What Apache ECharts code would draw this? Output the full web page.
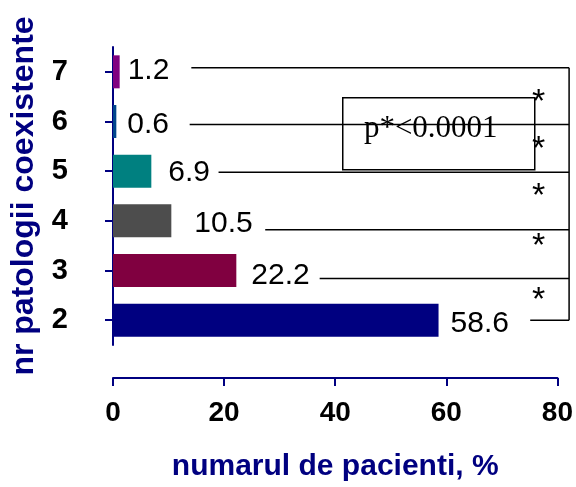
<!DOCTYPE html>
<html>
<head>
<meta charset="utf-8">
<script src="https://cdn.jsdelivr.net/npm/echarts@6/dist/echarts.min.js"></script>
<style>
  html, body { margin: 0; background: #fff; }
  #chart { width: 576px; height: 487px; }
</style>
</head>
<body>
<div id="chart"></div>
<script>
const categories = ["2", "3", "4", "5", "6", "7"];
const values = [58.6, 22.2, 10.5, 6.9, 0.6, 1.2];
const barColors = ["#000080", "#800040", "#4d4d4d", "#008080", "#00468c", "#800080"];
const xTicks = [0, 20, 40, 60, 80];
// comparison lines: where each one starts / ends, in % on the x axis
const bracketFrom = [75.1, 37.2, 27.4, 19.0, 13.8, 14.1];
const bracketTo = 82.1;
const starX = 76.6;
const pLabel = "p*<0.0001";

// small nudges (px)
const labelGap = [12, 15, 23, 17, 11, 8];
const labelDy = [4, 5, 3, 2, 3, -1];
const lineDy = [0, 8, 9, 1, 3, -4];
const starDy = [0, 1, -8, -4, 1, 6];

const NAVY = "#000080";
const FONT = "'Liberation Sans', Arial, sans-serif";

const chart = echarts.init(document.getElementById("chart"));

const barData = values.map((v, i) => ({
  value: v,
  itemStyle: { color: barColors[i] },
  label: { distance: labelGap[i], offset: [0, labelDy[i]] }
}));

const bracketData = bracketFrom.map((v, i) => [v, bracketTo, i]);

function lineY(api, i) {
  return api.coord([0, i])[1] + lineDy[i];
}

const option = {
  animation: false,
  grid: { left: 112, right: 17, top: 47, bottom: 140 },
  xAxis: {
    type: "value",
    min: 0,
    max: 80,
    interval: 20,
    offset: 33,
    name: "numarul de pacienti, %",
    nameLocation: "middle",
    nameGap: 74,
    nameTextStyle: { color: NAVY, fontSize: 30, fontWeight: "bold", fontFamily: FONT },
    axisLine: { show: true, lineStyle: { color: NAVY, width: 2 } },
    axisTick: { show: true, length: 8, lineStyle: { color: NAVY, width: 2 } },
    axisLabel: {
      color: "#000", fontSize: 28, fontWeight: "bold", fontFamily: FONT, margin: 21,
      formatter: v => (xTicks.includes(v) ? String(v) : "")
    },
    splitLine: { show: false }
  },
  yAxis: {
    type: "category",
    data: categories,
    offset: 32,
    name: "nr patologii coexistente",
    nameLocation: "middle",
    nameGap: 41,
    nameTextStyle: { color: NAVY, fontSize: 32, fontWeight: "bold", fontFamily: FONT },
    axisLine: { show: true, lineStyle: { color: NAVY, width: 2 } },
    axisTick: { show: true, alignWithLabel: true, length: 8, lineStyle: { color: NAVY, width: 2 } },
    axisLabel: {
      color: "#000", fontSize: 29, fontWeight: "bold", fontFamily: FONT, margin: 13,
      padding: [6, 0, 0, 0]
    }
  },
  series: [
    {
      type: "bar",
      data: barData,
      barWidth: 33,
      label: {
        show: true,
        position: "right",
        color: "#000",
        fontSize: 30,
        fontFamily: FONT
      }
    },
    {
      type: "custom",
      data: bracketData,
      encode: { x: [0, 1], y: 2 },
      clip: false,
      z: 3,
      renderItem(params, api) {
        const i = params.dataIndex;
        const a = api.coord([api.value(0), i]);
        const b = api.coord([api.value(1), i]);
        const y = a[1] + lineDy[i];
        const children = [{
          type: "line",
          shape: { x1: a[0], y1: y, x2: b[0], y2: y },
          style: { stroke: "#000", lineWidth: 1.5 }
        }];
        if (i > 0) {
          const sx = api.coord([starX, i])[0];
          const mid = (y + lineY(api, i - 1)) / 2;
          children.push({
            type: "text",
            x: sx,
            y: mid + starDy[i],
            style: { text: "*", fill: "#000", font: "34px " + FONT, align: "center", verticalAlign: "middle" }
          });
        }
        if (i === bracketData.length - 1) {
          children.push({
            type: "line",
            shape: { x1: b[0], y1: y, x2: b[0], y2: lineY(api, 0) },
            style: { stroke: "#000", lineWidth: 1.5 }
          });
        }
        return { type: "group", children };
      }
    }
  ],
  graphic: [
    {
      type: "group",
      z: 100,
      left: 342,
      top: 97,
      children: [
        {
          type: "rect",
          shape: { x: 0, y: 0, width: 192, height: 72 },
          style: { fill: "#fff", stroke: "#000", lineWidth: 1.5 }
        },
        {
          type: "text",
          x: 88,
          y: 31,
          style: {
            text: pLabel, fill: "#000",
            font: "31px 'Liberation Serif', 'Times New Roman', serif",
            align: "center", verticalAlign: "middle"
          }
        }
      ]
    }
  ]
};

chart.setOption(option);
</script>
</body>
</html>
